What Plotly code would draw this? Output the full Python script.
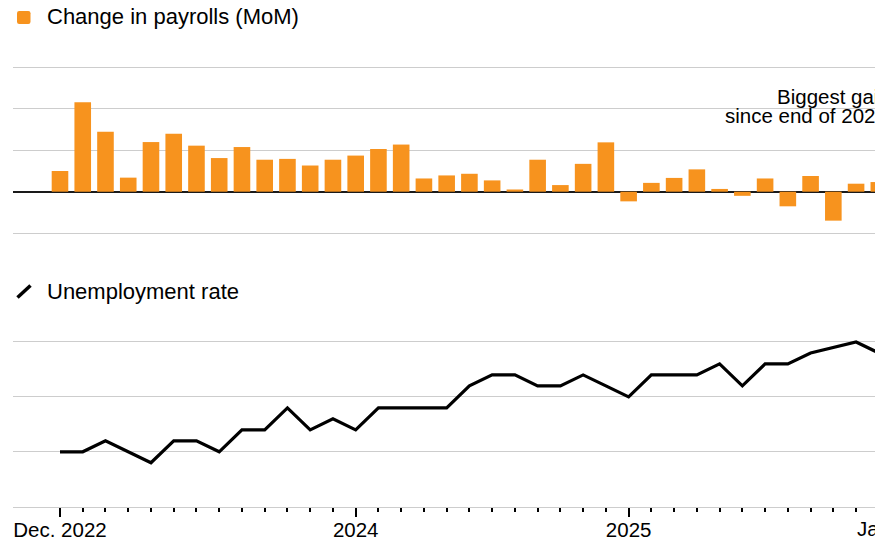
import plotly.graph_objects as go

# ---------------- data ----------------
MONTHS = [
    "2022-12",
    "2023-01", "2023-02", "2023-03", "2023-04", "2023-05", "2023-06",
    "2023-07", "2023-08", "2023-09", "2023-10", "2023-11", "2023-12",
    "2024-01", "2024-02", "2024-03", "2024-04", "2024-05", "2024-06",
    "2024-07", "2024-08", "2024-09", "2024-10", "2024-11", "2024-12",
    "2025-01", "2025-02", "2025-03", "2025-04", "2025-05", "2025-06",
    "2025-07", "2025-08", "2025-09", "2025-10", "2025-11", "2025-12",
]
# Change in nonfarm payrolls, thousands (month over month)
PAYROLLS_K = [
    75,
    324, 217, 51, 180, 210, 167,
    122, 162, 116, 119, 95, 116,
    131, 155, 171, 48, 59, 65,
    41, 8, 116, 24, 101, 179,
    -35, 32, 50, 81, 10, -15,
    48, -53, 57, -105, 29, 35,
]
# Unemployment rate, % (October 2025 not published)
UNEMPLOYMENT = [
    3.5,
    3.5, 3.6, 3.5, 3.4, 3.6, 3.6,
    3.5, 3.7, 3.7, 3.9, 3.7, 3.8,
    3.7, 3.9, 3.9, 3.9, 3.9, 4.1,
    4.2, 4.2, 4.1, 4.1, 4.2, 4.1,
    4.0, 4.2, 4.2, 4.2, 4.3, 4.1,
    4.3, 4.3, 4.4, None, 4.5, 4.4,
]
TICK_MONTHS = ["2022-12", "2024-01", "2025-01", "2026-01"]
TICK_LABELS = ["Dec. 2022", "2024", "2025", "Jan. 2026"]
PAYROLL_GRID = [-150, 0, 150, 300, 450]
UNEMP_GRID = [3.0, 3.5, 4.0, 4.5]

BAR_LABEL = "Change in payrolls (MoM)"
LINE_LABEL = "Unemployment rate"
NOTE_LINES = ["Biggest gain", "since end of 2024"]


def midx(m):
    y, mo = map(int, m.split("-"))
    return (y - 2022) * 12 + mo - 12


X = [midx(m) for m in MONTHS]

# ---------------- geometry ----------------
W, H = 875, 545
ML = 13
PW = W - ML
X0, X1 = -2.066, 35.832

FONT = "Liberation Sans"
ORANGE = "#F7931E"
GRID = "#cdcdcd"
TICK_FS = 20.5


def px_x(p):
    return (p - ML) / PW


def px_y(p):
    return 1 - p / H


def data_to_paper_x(v):
    return (v - X0) / (X1 - X0)


fig = go.Figure()

fig.add_trace(go.Bar(
    x=X, y=PAYROLLS_K, marker=dict(color=ORANGE, line=dict(width=0)),
    xaxis="x", yaxis="y", showlegend=False, hoverinfo="skip",
))
fig.add_trace(go.Scatter(
    x=X, y=UNEMPLOYMENT, mode="lines", connectgaps=True,
    line=dict(color="#000000", width=3.2),
    xaxis="x2", yaxis="y2", showlegend=False, hoverinfo="skip",
))

tick_x = [midx(m) for m in TICK_MONTHS]
vis_ticks = [(t, l) for t, l in zip(tick_x, TICK_LABELS) if X0 <= t <= X1]
off_ticks = [(t, l) for t, l in zip(tick_x, TICK_LABELS) if not (X0 <= t <= X1)]

fig.update_layout(
    width=W, height=H, autosize=False,
    margin=dict(l=ML, r=0, t=0, b=0, pad=0),
    paper_bgcolor="white", plot_bgcolor="white",
    bargap=0.27,
    font=dict(family=FONT, color="#000000", size=20),
    xaxis=dict(
        domain=[0, 1], range=[X0, X1], anchor="y",
        showgrid=False, zeroline=False, showticklabels=False, ticks="",
        showline=False, fixedrange=True,
    ),
    yaxis=dict(
        domain=[px_y(240), px_y(60)], range=[-175.2, 477.7],
        tickmode="array", tickvals=PAYROLL_GRID, showticklabels=False,
        showgrid=True, gridcolor=GRID, gridwidth=1.2,
        zeroline=True, zerolinecolor="#1a1a1a", zerolinewidth=1.8,
        fixedrange=True,
    ),
    xaxis2=dict(
        domain=[0, 1], range=[X0, X1], anchor="y2",
        tickmode="array", tickvals=[t for t, _ in vis_ticks],
        ticktext=[l for _, l in vis_ticks],
        ticks="outside", ticklen=9, tickwidth=2, tickcolor="#000000",
        ticklabelstandoff=-4,
        tickfont=dict(family=FONT, size=TICK_FS, color="#000000"),
        minor=dict(tickmode="array", tickvals=X, ticks="outside", ticklen=4.5,
                   tickwidth=1.6, tickcolor="#000000", showgrid=False),
        showline=True, linecolor=GRID, linewidth=1.2,
        showgrid=False, zeroline=False, fixedrange=True,
    ),
    yaxis2=dict(
        domain=[px_y(506.7), px_y(320)], range=[3.0, 4.70],
        tickmode="array", tickvals=UNEMP_GRID, showticklabels=False,
        showgrid=True, gridcolor=GRID, gridwidth=1.2,
        zeroline=False, fixedrange=True,
    ),
)

annotations = []
# header labels
annotations.append(dict(text=BAR_LABEL, xref="paper", yref="paper",
                        x=px_x(44.5), y=px_y(16), xanchor="left", yanchor="middle",
                        showarrow=False, font=dict(family=FONT, size=22, color="#000")))
annotations.append(dict(text=LINE_LABEL, xref="paper", yref="paper",
                        x=px_x(44.5), y=px_y(291), xanchor="left", yanchor="middle",
                        showarrow=False, font=dict(family=FONT, size=22, color="#000")))
# note (right-aligned, runs past the visible edge)
for line, xr, yc in zip(NOTE_LINES, [892, 889], [97, 115]):
    annotations.append(dict(text=line, xref="paper", yref="paper",
                            x=px_x(xr), y=px_y(yc), xanchor="right", yanchor="middle",
                            align="right", showarrow=False,
                            font=dict(family=FONT, size=20.5, color="#000")))
# tick labels beyond the visible range
for t, l in off_ticks:
    annotations.append(dict(text=l, xref="paper", yref="paper",
                            x=data_to_paper_x(t), y=px_y(528.5), xanchor="center",
                            yanchor="middle", showarrow=False,
                            font=dict(family=FONT, size=TICK_FS, color="#000")))
fig.update_layout(annotations=annotations)

# legend swatches
x1, x2, y1, y2, r = 17, 30.5, 11, 24, 2.2
path = (f"M {px_x(x1 + r)},{px_y(y1)} L {px_x(x2 - r)},{px_y(y1)} "
        f"Q {px_x(x2)},{px_y(y1)} {px_x(x2)},{px_y(y1 + r)} "
        f"L {px_x(x2)},{px_y(y2 - r)} Q {px_x(x2)},{px_y(y2)} {px_x(x2 - r)},{px_y(y2)} "
        f"L {px_x(x1 + r)},{px_y(y2)} Q {px_x(x1)},{px_y(y2)} {px_x(x1)},{px_y(y2 - r)} "
        f"L {px_x(x1)},{px_y(y1 + r)} Q {px_x(x1)},{px_y(y1)} {px_x(x1 + r)},{px_y(y1)} Z")
fig.add_shape(type="path", path=path, xref="paper", yref="paper",
              fillcolor=ORANGE, line=dict(width=0), layer="above")
fig.add_shape(type="line", xref="paper", yref="paper",
              x0=px_x(17.5), y0=px_y(297.5), x1=px_x(30.5), y1=px_y(285.5),
              line=dict(color="#000000", width=3.5), layer="above")

fig.write_html(
    "out.html",
    config=dict(displayModeBar=False),
    post_script="document.body.style.margin='0';document.body.style.overflow='hidden';",
)
